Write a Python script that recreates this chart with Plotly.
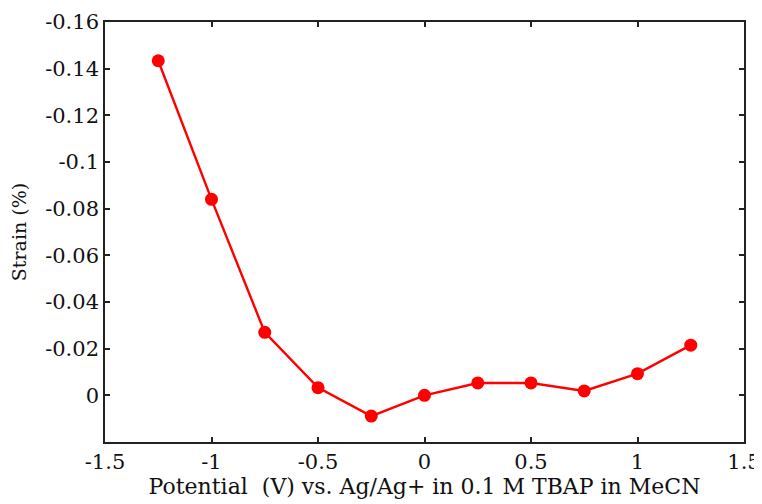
import plotly.graph_objects as go

potential = [-1.25, -1.0, -0.75, -0.5, -0.25, 0.0, 0.25, 0.5, 0.75, 1.0, 1.25]
strain = [-0.1434, -0.084, -0.027, -0.0033, 0.0089, 0.0, -0.0053, -0.0053, -0.0019, -0.0093, -0.0215]

x_tickvals = [-1.5, -1, -0.5, 0, 0.5, 1, 1.5]
x_ticktext = ["-1.5", "-1", "-0.5", "0", "0.5", "1", "1.5"]
y_tickvals = [-0.16, -0.14, -0.12, -0.1, -0.08, -0.06, -0.04, -0.02, 0]
y_ticktext = ["-0.16", "-0.14", "-0.12", "-0.1", "-0.08", "-0.06", "-0.04", "-0.02", "0"]

FONT = "DejaVu Serif, Liberation Serif, serif"

fig = go.Figure()
fig.add_trace(go.Scatter(
    x=potential, y=strain, mode="lines+markers",
    line=dict(color="#ff0000", width=2.4),
    marker=dict(color="#ff0000", size=13),
    showlegend=False,
))

axis_common = dict(
    showline=True, linecolor="#222222", linewidth=1.6,
    mirror="ticks", ticks="inside", ticklen=5, tickwidth=1.5, tickcolor="#222222",
    showgrid=False, zeroline=False, automargin=False,
    tickfont=dict(family=FONT, size=21, color="#111111"),
)

fig.update_layout(
    width=754, height=496,
    margin=dict(l=97, r=18, t=14, b=62),
    paper_bgcolor="white", plot_bgcolor="white",
    font=dict(family=FONT, color="#111111"),
    xaxis=dict(
        range=[-1.5, 1.5], tickvals=x_tickvals, ticktext=x_ticktext,
        title=dict(text="Potential  (V) vs. Ag/Ag+ in 0.1 M TBAP in MeCN",
                   font=dict(family=FONT, size=22), standoff=4),
        **axis_common,
    ),
    yaxis=dict(
        range=[0.02, -0.16], tickvals=y_tickvals, ticktext=y_ticktext,
        title=dict(text="Strain (%)", font=dict(family=FONT, size=19), standoff=14),
        **axis_common,
    ),
)

fig.write_html("out.html")
